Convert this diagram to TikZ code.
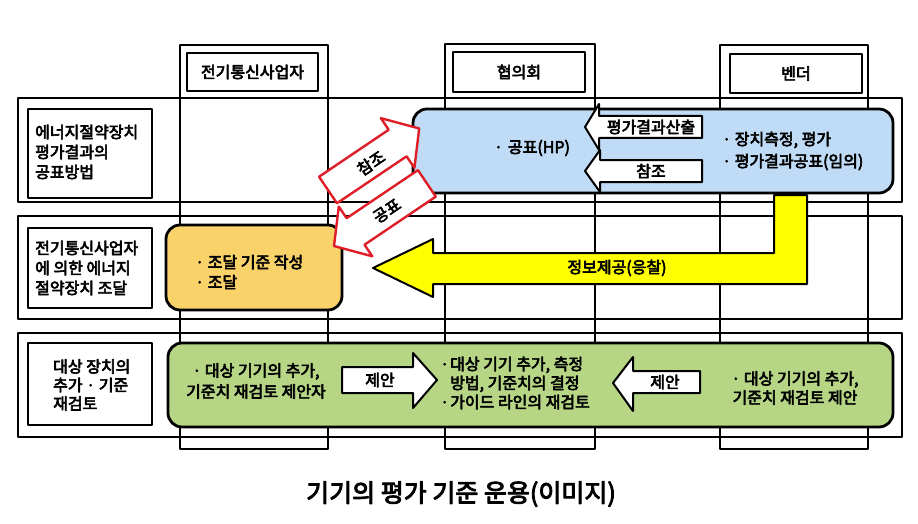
\documentclass[tikz,border=0pt]{standalone}
\usepackage{fontspec}
\setmainfont{Noto Sans CJK KR}
\definecolor{boxblue}{RGB}{192,219,245}
\definecolor{boxorange}{RGB}{250,210,106}
\definecolor{boxgreen}{RGB}{182,214,134}
\definecolor{arrred}{RGB}{222,30,40}
\definecolor{arryellow}{RGB}{255,255,0}
\newcommand\bon{\special{pdf:literal direct 0 0 0 RG 2 Tr 0.6 w}}
\newcommand\bonn{\special{pdf:literal direct 0 0 0 RG 2 Tr 0.9 w}}
\newcommand\boff{\special{pdf:literal direct 0 Tr}}
\newcommand\bul{\makebox[10pt][l]{·}}
\begin{document}
\begin{tikzpicture}[x=1pt,y=-1pt,line join=round,
  frame/.style={draw=black,line width=2.8pt},
  hdr/.style={draw=black,line width=2.8pt,inner sep=0pt,font=\fontsize{16}{20}\selectfont},
  lab/.style={inner sep=0pt,align=left,font=\fontsize{16}{20}\selectfont},
  labc/.style={inner sep=0pt,align=center,font=\fontsize{16}{21}\selectfont},
  panel/.style={draw=black,line width=2.8pt,rounded corners=14pt},
  warr/.style={draw=black,fill=white,line width=2pt},
  rarr/.style={draw=arrred,fill=white,line width=2.4pt},
  yarr/.style={draw=black,fill=arryellow,line width=2pt},
  atxt/.style={inner sep=0pt,font=\fontsize{16}{20}\selectfont}]
\useasboundingbox[fill=white] (0,0) rectangle (918,524);

% columns
\draw[frame] (180,45) rectangle (328,449);
\draw[frame] (445,44) rectangle (595,449);
\draw[frame] (720,45) rectangle (868,449);
\node[hdr,minimum width=131pt,minimum height=38pt] (h1) at (252.5,72) {\bon 전기통신사업자\boff};
\node[hdr,minimum width=132pt,minimum height=40pt] (h2) at (519,72) {\bon 협의회\boff};
\node[hdr,minimum width=132pt,minimum height=39pt] (h3) at (796,73.5) {\bon 벤더\boff};

% rows
\draw[frame] (18,98) rectangle (902,202);
\draw[frame] (18,216) rectangle (902,319);
\draw[frame] (18,333) rectangle (902,437);
\draw[frame] (28,109) rectangle (152,198);
\draw[frame] (28,228) rectangle (152,308);
\draw[frame] (28,343) rectangle (152,425);
\node[lab,anchor=west] (r1) at (35,152) {\bon 에너지절약장치\\평가결과의\\공표방법\boff};
\node[lab,anchor=west] (r2) at (35,268) {\bon 전기통신사업자\\에 의한 에너지\\절약장치 조달\boff};
\node[lab,anchor=west,font=\fontsize{16}{18.5}\selectfont] (r3) at (53,385) {\bon 대상 장치의\\추가 · 기준\\재검토\boff};

% blue panel
\draw[panel,fill=boxblue] (413,109) rectangle (893,193);
\node[atxt] (hp) at (532,148) {\bon ·\hspace{5pt}공표(HP)\boff};
\node[lab,anchor=west,font=\fontsize{16}{22}\selectfont] (vt) at (722,151) {\bon · 장치측정, 평가\\· 평가결과공표(임의)\boff};
\draw[warr] (702,116) -- (599,116) -- (599,104) -- (585,127) -- (599,150) -- (599,138) -- (702,138) -- cycle;
\node[atxt] (a1) at (651,127) {\bon 평가결과산출\boff};
\draw[warr] (702,160) -- (600,160) -- (600,150) -- (585,171) -- (600,192) -- (600,182) -- (702,182) -- cycle;
\node[atxt] (a2) at (651,171) {\bon 참조\boff};

% yellow arrow
\draw[yarr] (774,195) -- (807,195) -- (807,284) -- (433,284) -- (433,297) -- (373,268) -- (433,239) -- (433,253) -- (774,253) -- cycle;
\node[atxt] (ya) at (617,268) {\bon 정보제공(응찰)\boff};

% orange panel
\draw[panel,fill=boxorange] (166,225) rectangle (342,310);
\node[lab,anchor=west] (ob) at (195,272) {\bon · 조달 기준 작성\\· 조달\boff};

% red arrows
\begin{scope}[shift={(328,190)},rotate=34]
\draw[rarr] (0,-16) -- (84,-16) -- (84,-30) -- (110,0) -- (84,30) -- (84,16) -- (0,16) -- cycle;
\end{scope}
\node[atxt,rotate=34] (rc) at (371,163) {\bon 참조\boff};
\begin{scope}[shift={(334,246)},rotate=34]
\draw[rarr] (0,0) -- (26,-30) -- (26,-16) -- (112,-16) -- (112,16) -- (26,16) -- (26,30) -- cycle;
\end{scope}
\node[atxt,rotate=34] (rp) at (387,211) {\bon 공표\boff};

% green panel
\draw[panel,fill=boxgreen] (168,343) rectangle (893,427);
\node[labc] (gl) at (256,381) {\bon · 대상 기기의 추가,\\기준치 재검토 제안자\boff};
\node[lab,anchor=west,font=\fontsize{16}{19}\selectfont] (gm) at (440,383) {\bon\bul 대상 기기 추가, 측정\\\hspace*{10pt}방법, 기준치의 결정\\\bul 가이드 라인의 재검토\boff};
\node[labc,font=\fontsize{16}{19}\selectfont] (gr) at (795,388) {\bon · 대상 기기의 추가,\\기준치 재검토 제안\boff};
\draw[warr] (342,367) -- (413,367) -- (413,353) -- (437,380) -- (413,408) -- (413,393) -- (342,393) -- cycle;
\node[atxt] (p1) at (380,380) {\bon 제안\boff};
\draw[warr] (700,371) -- (633,371) -- (633,357) -- (613,383) -- (633,411) -- (633,393) -- (700,393) -- cycle;
\node[atxt] (p2) at (665,382) {\bon 제안\boff};

% title
\node[inner sep=0pt,font=\fontsize{25}{30}\selectfont] (title) at (461,494) {\bonn 기기의 평가 기준 운용(이미지)\boff};
\end{tikzpicture}
\end{document}
